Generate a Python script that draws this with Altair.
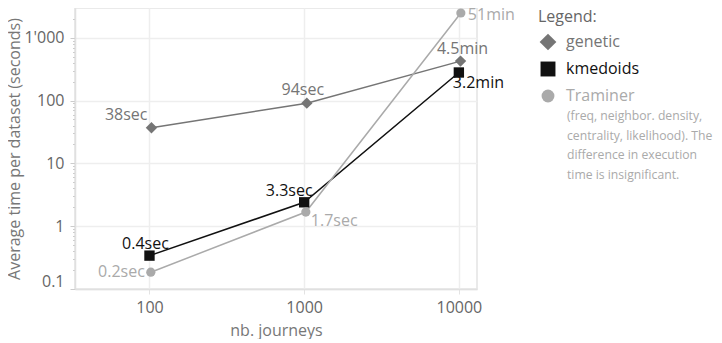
import altair as alt
import pandas as pd

# ---- data ----
series = ["genetic", "kmedoids", "Traminer"]
genetic_x = [103, 1040, 10250]
genetic_y = [37, 91, 425]
genetic_lbl = ["38sec", "94sec", "4.5min"]
kmedoids_x = [100, 1000, 10000]
kmedoids_y = [0.34, 2.4, 280]
kmedoids_lbl = ["0.4sec", "3.3sec", "3.2min"]
traminer_x = [102, 1025, 10300]
traminer_y = [0.185, 1.68, 2480]
traminer_lbl = ["0.2sec", "1.7sec", "51min"]

colors = ["#757575", "#111111", "#aaaaaa"]
shapes = ["diamond", "square", "circle"]
point_sizes = [130, 85, 175]
legend_sizes = [280, 165, 240]
y_major = [0.1, 1, 10, 100, 1000]
x_ticks = [100, 1000, 10000]
legend_title = "Legend:"
note_lines = ["(freq, neighbor. density,", "centrality, likelihood). The",
              "difference in execution", "time is insignificant."]
x_title = "nb. journeys"
y_title = "Average time per dataset (seconds)"

rows = []
for name, xs, ys, ls in [("genetic", genetic_x, genetic_y, genetic_lbl),
                         ("kmedoids", kmedoids_x, kmedoids_y, kmedoids_lbl),
                         ("Traminer", traminer_x, traminer_y, traminer_lbl)]:
    for i, (xv, yv, lv) in enumerate(zip(xs, ys, ls)):
        rows.append({"series": name, "x": xv, "y": yv, "label": lv, "idx": i})
df = pd.DataFrame(rows)
legend_df = pd.DataFrame({"series": series})

FONT = "Open Sans"
Y_MAX = 2980
y_minor = [m * 10 ** e for e in range(-1, 4) for m in range(2, 10) if m * 10 ** e < Y_MAX]
y_values = sorted(y_major + y_minor)
major_test = "indexof([" + ",".join(str(v) for v in y_major) + "], datum.value) >= 0"

x_enc = alt.X("x:Q",
              scale=alt.Scale(type="log", domain=[33, 13100], nice=False),
              axis=alt.Axis(values=x_ticks, format="d", title=x_title,
                            labelFontSize=16, titleFontSize=16, labelColor="#666",
                            titleColor="#777", titleFontWeight="normal",
                            tickSize=5, tickColor="#e3e3e3", labelPadding=5,
                            titlePadding=7, labelFlush=False,
                            domainColor="#e0e0e0", domainWidth=1.5,
                            gridColor="#eeeeee", gridWidth=1.5))
y_enc = alt.Y("y:Q",
              scale=alt.Scale(type="log", domain=[0.1, Y_MAX], nice=False),
              axis=alt.Axis(values=y_values,
                            labelExpr=major_test + " ? replace(format(datum.value, ',~g'), ',', \"'\") : ''",
                            tickSize={"condition": {"test": major_test, "value": 5}, "value": 2.5},
                            gridOpacity={"condition": {"test": major_test, "value": 1}, "value": 0},
                            title=y_title, labelFontSize=16, titleFontSize=16,
                            labelColor="#666", titleColor="#777", titleFontWeight="normal",
                            tickColor="#cccccc", labelPadding=6, titlePadding=1,
                            labelFlush=True, domainColor="#e0e0e0", domainWidth=1.5,
                            gridColor="#eeeeee", gridWidth=1.5))

color_scale = alt.Scale(domain=series, range=colors)
shape_scale = alt.Scale(domain=series, range=shapes)
color_enc = alt.Color("series:N", scale=color_scale, legend=None)
shape_enc = alt.Shape("series:N", scale=shape_scale, legend=None)
base = alt.Chart(df)

lines = base.mark_line(strokeWidth=1.5).encode(
    x=x_enc, y=y_enc, color=color_enc, order="idx:Q")

points = base.mark_point(filled=True, opacity=1).encode(
    x=x_enc, y=y_enc, color=color_enc, shape=shape_enc,
    size=alt.Size("series:N", scale=alt.Scale(domain=series, range=point_sizes), legend=None))

# label placement (align, dx, dy) per series / point
placement = {
    "genetic": [("right", -4, -13), ("center", -4, -13), ("center", 2, -12)],
    "kmedoids": [("center", -4, -12), ("center", -15, -11), ("left", -6, 10)],
    "Traminer": [("right", -6, 0), ("left", 5, 9), ("left", 7, 2)],
}
text_layers = []
for s, c in zip(series, colors):
    for i, (al, dx, dy) in enumerate(placement[s]):
        text_layers.append(
            base.transform_filter(
                (alt.datum.series == s) & (alt.datum.idx == i)
            ).mark_text(align=al, dx=dx, dy=dy, baseline="middle",
                        fontSize=16, color=c, font=FONT).encode(
                x=x_enc, y=y_enc, text="label:N"))

main = alt.layer(lines, points, *text_layers)

# ---- legend, drawn from the series list through a point scale ----
leg_y = alt.Y("series:N", scale=alt.Scale(domain=series, range=[34, 88], padding=0), axis=None)
leg_base = alt.Chart(legend_df)
leg_symbols = leg_base.mark_point(filled=True, opacity=1).encode(
    x=alt.value(473), y=leg_y, color=color_enc, shape=shape_enc,
    size=alt.Size("series:N", scale=alt.Scale(domain=series, range=legend_sizes), legend=None))
leg_labels = leg_base.mark_text(align="left", baseline="middle", fontSize=16, font=FONT).encode(
    x=alt.value(491), y=leg_y, text="series:N", color=color_enc)
leg_title = alt.Chart(pd.DataFrame({"t": [legend_title]})).mark_text(
    align="left", baseline="middle", fontSize=16, font=FONT, color="#666").encode(
    x=alt.value(463), y=alt.value(9), text="t:N")
note = alt.Chart(pd.DataFrame({"k": [0]})).mark_text(
    text=note_lines, align="left", baseline="middle", fontSize=12.2,
    lineHeight=19.5, color="#aaaaaa", font=FONT).encode(
    x=alt.value(492), y=alt.value(108))
legend = alt.layer(leg_symbols, leg_labels, leg_title, note)

chart = alt.layer(main, legend).resolve_scale(y="independent", size="independent").properties(
    width=402, height=281,
    autosize=alt.AutoSizeParams(type="none"),
    padding={"left": 67, "top": 0, "right": 237, "bottom": 50},
).configure(font=FONT).configure_view(stroke="#e3e3e3", strokeWidth=1.5)

chart.save("out.html", embed_options={"renderer": "svg", "actions": False})
